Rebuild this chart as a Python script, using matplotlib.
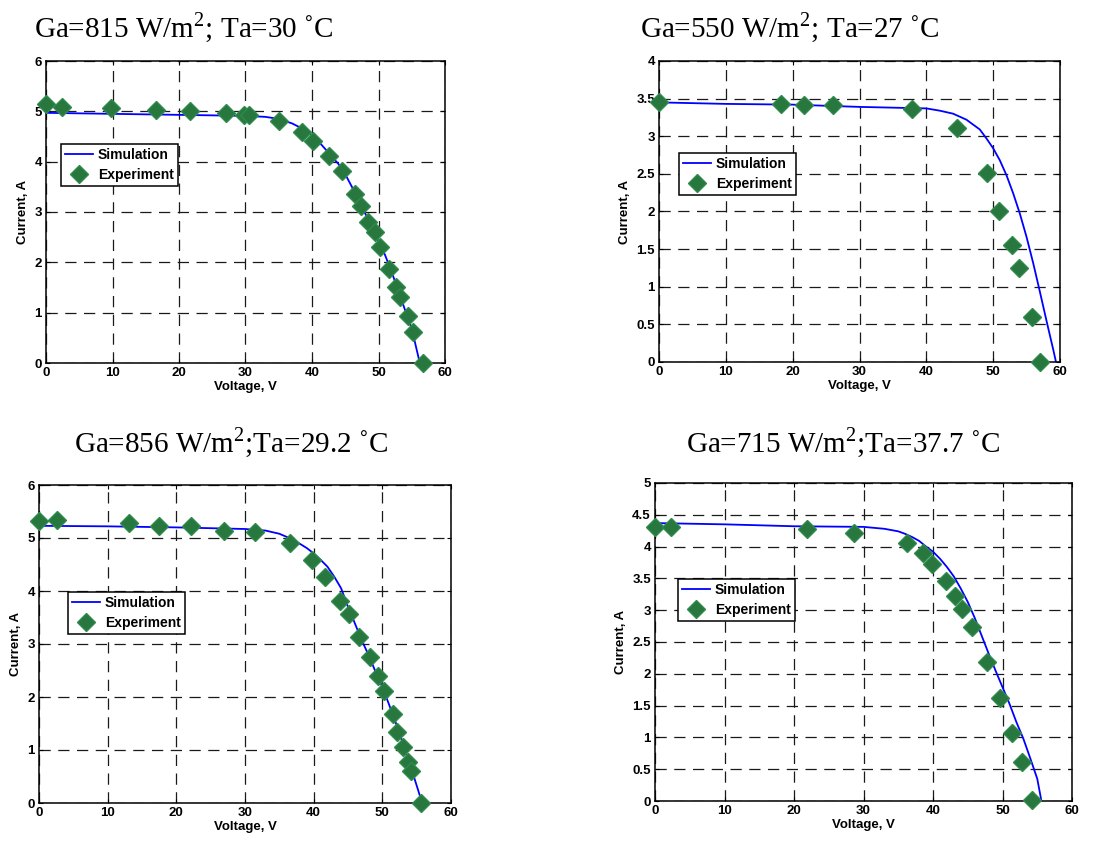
import matplotlib
matplotlib.use("Agg")
import matplotlib.pyplot as plt
from matplotlib.ticker import FuncFormatter, MultipleLocator

plt.rcParams['font.family'] = ['Liberation Sans', 'DejaVu Sans']
plt.rcParams['mathtext.fontset'] = 'custom'
plt.rcParams['mathtext.rm'] = 'Liberation Serif'

# panel 1: Ga=815, Ta=30
exp1_v = [0, 2.4, 9.7, 16.6, 21.7, 27.0, 29.8, 30.6, 35.0, 38.5, 40.2, 42.5, 44.5,
          46.4, 47.3, 48.4, 49.4, 50.3, 51.6, 52.7, 53.3, 54.4, 55.2, 56.7]
exp1_i = [5.14, 5.09, 5.06, 5.02, 5.01, 4.97, 4.92, 4.92, 4.81, 4.59, 4.42, 4.12, 3.81,
          3.36, 3.11, 2.81, 2.61, 2.30, 1.87, 1.51, 1.32, 0.93, 0.61, 0.0]
sim1_v = [0, 10, 20, 30, 33, 35, 37, 38.5, 40, 41, 42, 43, 44, 45, 46, 47, 48, 49, 50,
          51, 52, 53, 54, 55, 56, 56.2]
sim1_i = [4.97, 4.95, 4.93, 4.91, 4.89, 4.85, 4.76, 4.66, 4.52, 4.40, 4.25, 4.10, 3.95,
          3.75, 3.50, 3.24, 2.97, 2.70, 2.42, 2.14, 1.80, 1.43, 1.05, 0.68, 0.12, 0.0]

# panel 2: Ga=550, Ta=27
exp2_v = [0, 18.3, 21.7, 26.0, 37.9, 44.6, 49.1, 50.9, 52.8, 53.8, 55.8, 57.0]
exp2_i = [3.46, 3.43, 3.42, 3.41, 3.36, 3.11, 2.51, 2.0, 1.55, 1.25, 0.60, 0.0]
sim2_v = [0, 10, 20, 30, 40, 42, 44, 46, 48, 49, 50, 51, 52, 53, 54, 55, 56, 57, 58,
          59, 59.4]
sim2_i = [3.45, 3.43, 3.42, 3.39, 3.37, 3.34, 3.30, 3.22, 3.09, 2.97, 2.84, 2.68, 2.48,
          2.24, 1.97, 1.66, 1.31, 0.93, 0.54, 0.16, 0.0]

# panel 3: Ga=856, Ta=29.2
exp3_v = [0, 2.67, 13.1, 17.5, 22.2, 27.0, 31.4, 36.6, 39.8, 41.6, 43.8, 45.1, 46.6,
          48.2, 49.4, 50.2, 51.5, 52.2, 53.0, 53.8, 54.2, 55.7]
exp3_i = [5.32, 5.34, 5.29, 5.23, 5.22, 5.14, 5.12, 4.91, 4.59, 4.27, 3.81, 3.57, 3.14,
          2.76, 2.39, 2.12, 1.67, 1.34, 1.05, 0.78, 0.60, 0.0]
sim3_v = [0, 10, 20, 30, 33, 35, 37, 39, 40, 41, 42, 43, 44, 45, 46, 47, 48, 49, 50,
          51, 52, 53, 54, 55, 55.8]
sim3_i = [5.23, 5.22, 5.20, 5.17, 5.14, 5.08, 4.97, 4.81, 4.71, 4.59, 4.46, 4.27, 4.05,
          3.70, 3.39, 3.07, 2.79, 2.48, 2.19, 1.85, 1.50, 1.12, 0.74, 0.33, 0.0]

# panel 4: Ga=715, Ta=37.7
exp4_v = [0, 2.3, 21.9, 28.6, 36.2, 38.6, 39.9, 41.9, 43.1, 44.2, 45.6, 47.8, 49.7,
          51.4, 52.8, 54.3]
exp4_i = [4.31, 4.31, 4.27, 4.21, 4.05, 3.90, 3.72, 3.46, 3.23, 3.02, 2.73, 2.19, 1.62,
          1.07, 0.61, 0.01]
sim4_v = [0, 10, 20, 30, 33, 35, 36, 37, 38, 39, 40, 41, 42, 43, 44, 45, 46, 47, 48,
          49, 50, 51, 52, 53, 54, 55, 55.6]
sim4_i = [4.37, 4.35, 4.32, 4.31, 4.28, 4.24, 4.20, 4.15, 4.09, 4.00, 3.92, 3.81, 3.68,
          3.53, 3.34, 3.13, 2.88, 2.60, 2.32, 2.05, 1.79, 1.53, 1.24, 0.98, 0.67, 0.35, 0.0]

titles = ["Ga=815 W/m$^2$; Ta=30 \u02daC", "Ga=550 W/m$^2$; Ta=27 \u02daC",
          "Ga=856 W/m$^2$;Ta=29.2 \u02daC", "Ga=715 W/m$^2$;Ta=37.7 \u02daC"]

W, H = 1119, 842
fig = plt.figure(figsize=(W / 100, H / 100), dpi=100)

# axes boxes in pixels: left, top, right, bottom
boxes = [(46, 61, 445, 363), (659, 61, 1060, 362), (39, 485, 451, 803), (655, 483, 1072, 801)]
title_pos = [(184, 37), (790, 37), (231, 452), (843, 452)]
legend_pos = [(0.038, 0.725), (0.05, 0.694), (0.07, 0.664), (0.055, 0.698)]
ylims = [(6, 1), (4, 0.5), (6, 1), (5, 0.5)]

panels = [(sim1_v, sim1_i, exp1_v, exp1_i), (sim2_v, sim2_i, exp2_v, exp2_i),
          (sim3_v, sim3_i, exp3_v, exp3_i), (sim4_v, sim4_i, exp4_v, exp4_i)]

fmt = FuncFormatter(lambda v, p: '%g' % v)

for k, (sv, si, ev, ei) in enumerate(panels):
    l, t, r, b = boxes[k]
    ax = fig.add_axes([l / W, 1 - b / H, (r - l) / W, (b - t) / H])
    ax.plot(sv, si, color='#0000ff', lw=1.3, label='Simulation')
    ax.plot(ev, ei, 'D', ms=9, color='#27773f', mec='#2e8b4a', mew=1,
            label='Experiment', clip_on=False, zorder=5)
    ax.set_xlim(0, 60)
    ax.set_ylim(0, ylims[k][0])
    ax.xaxis.set_major_locator(MultipleLocator(10))
    ax.yaxis.set_major_locator(MultipleLocator(ylims[k][1]))
    ax.yaxis.set_major_formatter(fmt)
    ax.grid(True, color='#1a1a1a', ls=(0, (9, 6)), lw=0.9)
    ax.tick_params(direction='in', length=3, top=True, right=True, labelsize=9.5, pad=3)
    for lab in ax.get_xticklabels() + ax.get_yticklabels():
        lab.set_fontweight('bold')
    for s in ax.spines.values():
        s.set_linewidth(1.1)
    ax.set_xlabel('Voltage, V', fontsize=9.5, fontweight='bold', labelpad=1)
    ax.set_ylabel('Current, A', fontsize=9.5, fontweight='bold', labelpad=4)
    leg = ax.legend(loc='upper left', bbox_to_anchor=legend_pos[k], borderaxespad=0,
                    fancybox=False, edgecolor='black', framealpha=1,
                    prop={'weight': 'bold', 'size': 10}, handlelength=2.0,
                    borderpad=0.3, labelspacing=0.4, handletextpad=0.35)
    leg.get_frame().set_linewidth(1.1)
    tx, ty = title_pos[k]
    fig.text(tx / W, 1 - ty / H, titles[k], ha='center', va='baseline',
             fontsize=21, family='Liberation Serif')

fig.savefig('out.png', dpi=100)
